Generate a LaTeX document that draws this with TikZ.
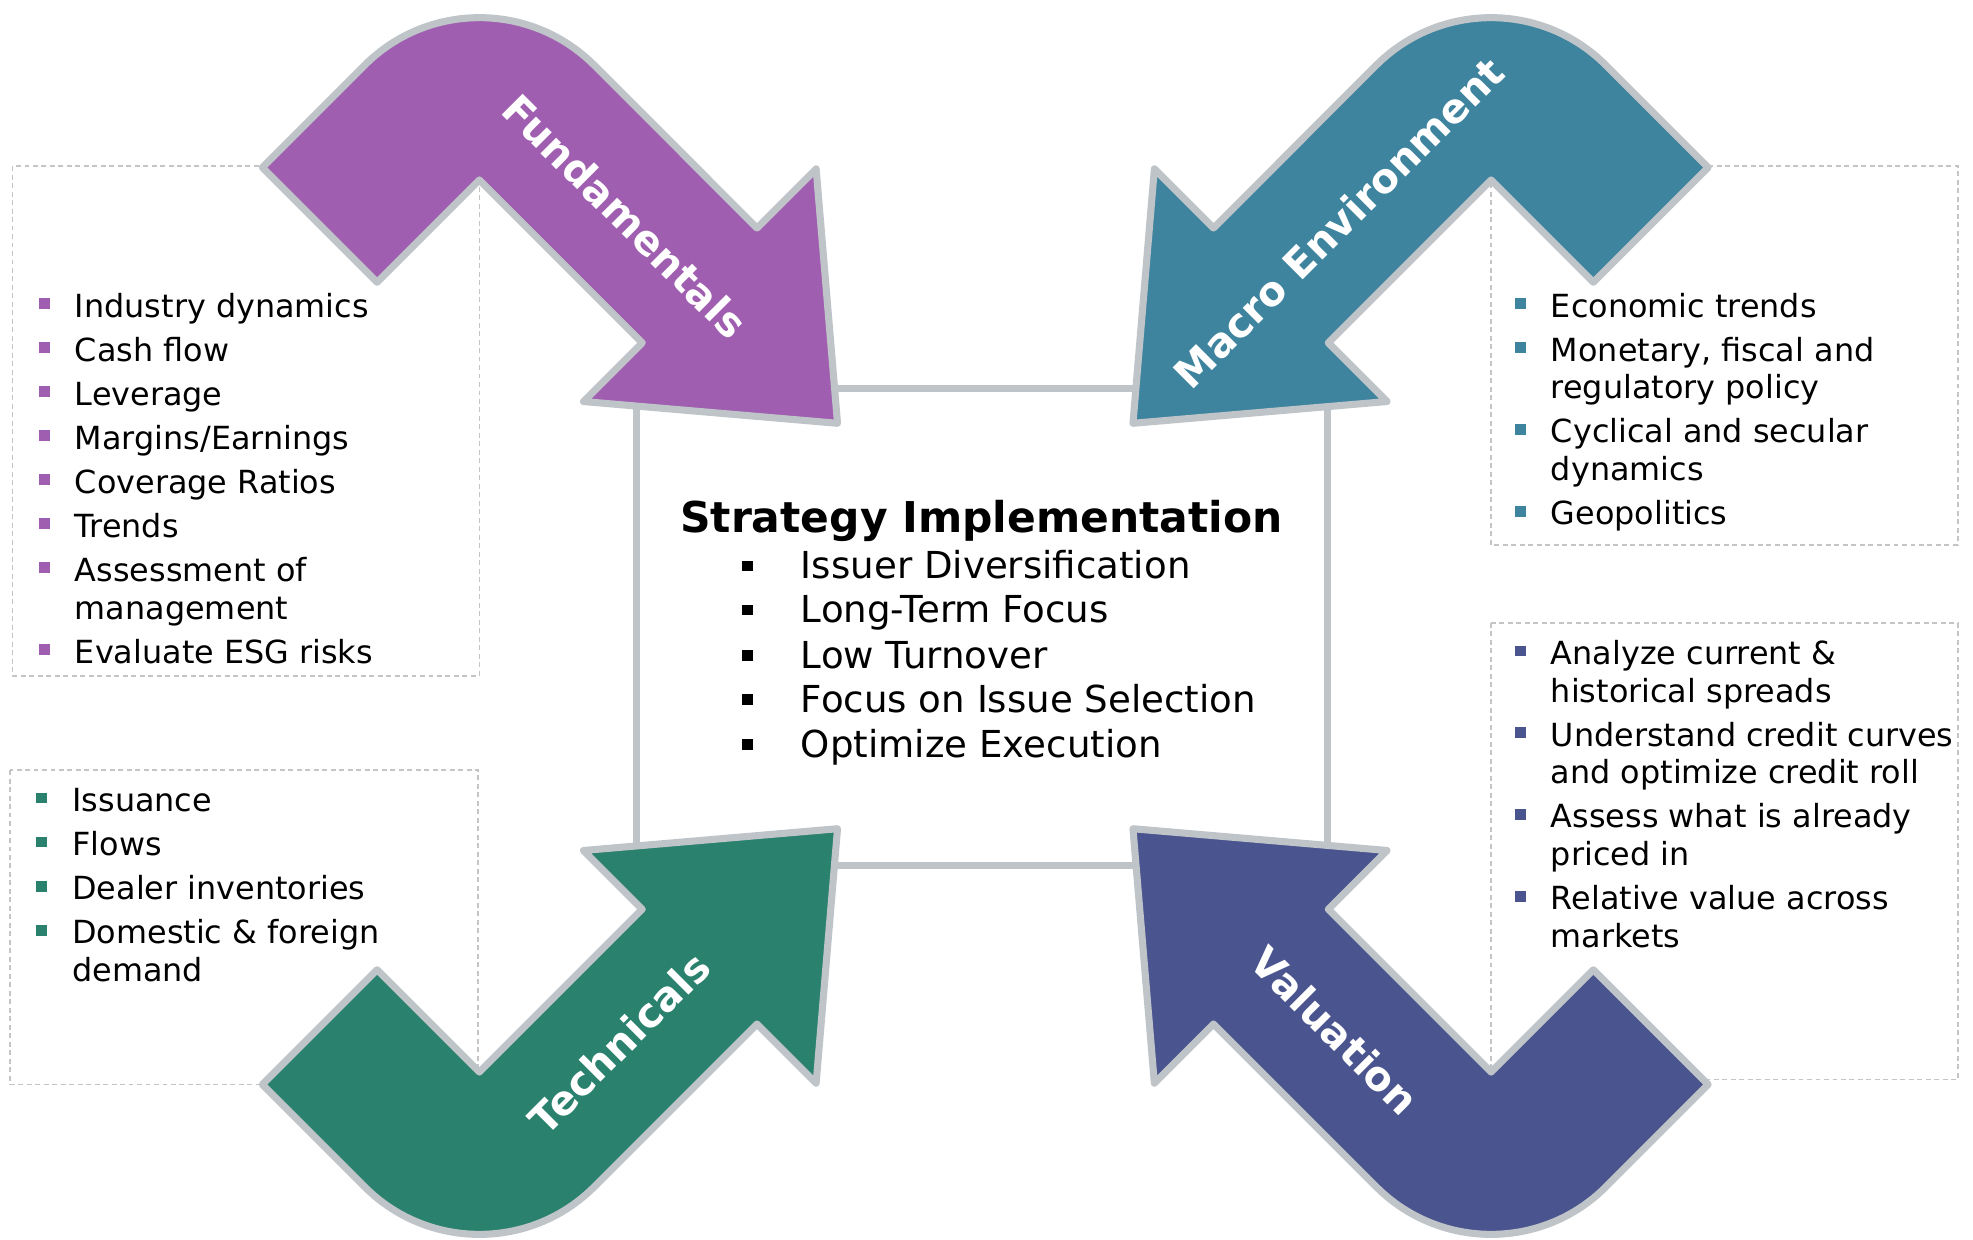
\documentclass[tikz,border=0pt]{standalone}
\usepackage{fontspec}
\setmainfont{DejaVu Sans}
\definecolor{fundc}{HTML}{A05EB0}
\definecolor{macroc}{HTML}{3E849E}
\definecolor{techc}{HTML}{2A816E}
\definecolor{valuc}{HTML}{4A548E}
\definecolor{rimc}{HTML}{BFC4C8}
\definecolor{dashc}{HTML}{C4C4C4}
% bent arrow, inner corner at the origin
\newcommand{\bentarrow}{(-172.5,9.9) -- (-91.2,91.2) arc[start angle=135, end angle=45, radius=129]
  -- (220.6,-38.2) -- (267.6,8.8) -- (284.6,-193.4) -- (82.7,-176.1) -- (129.4,-129.4)
  -- (0,0) -- (-81.3,-81.3) -- cycle}
\begin{document}
\begin{tikzpicture}[
    x=0.125mm, y=0.125mm,
    bentarr/.style={draw=rimc, line width=2pt, line join=round},
    note/.style={draw=dashc, line width=0.45pt, dash pattern=on 1.4pt off 1pt},
    frame/.style={draw=rimc, line width=1.9pt},
    item/.style={anchor=base west, inner sep=0pt, font=\fontsize{9}{11}\selectfont},
    core/.style={anchor=base west, inner sep=0pt, font=\fontsize{10.5}{12}\selectfont},
    tag/.style={text=white, inner sep=0pt, font=\fontsize{11.5}{13}\selectfont\bfseries},
  ]
  \useasboundingbox (0,0) rectangle (1568,-985);

  % dashed boxes
  \draw[note] (10,-132) rectangle (381,-537);
  \draw[note] (1185,-132) rectangle (1556,-433);
  \draw[note] (8,-612) rectangle (380,-862);
  \draw[note] (1185,-495) rectangle (1556,-858);

  % centre frame
  \draw[frame] (506,-309) rectangle (1055,-688);

  % arrows
  \begin{scope}[shift={(381,-143)}]
    \draw[bentarr, fill=fundc] \bentarrow;
  \end{scope}
  \begin{scope}[shift={(1185,-143)}, xscale=-1]
    \draw[bentarr, fill=macroc] \bentarrow;
  \end{scope}
  \begin{scope}[shift={(381,-852)}, yscale=-1]
    \draw[bentarr, fill=techc] \bentarrow;
  \end{scope}
  \begin{scope}[shift={(1185,-852)}, xscale=-1, yscale=-1]
    \draw[bentarr, fill=valuc] \bentarrow;
  \end{scope}

  \node[tag, rotate=-45] (fund) at (497,-172) {Fundamentals};
  \node[tag, rotate=45] (macro) at (1064,-177) {Macro Environment};
  \node[tag, rotate=45] (tech) at (492,-829) {Technicals};
  \node[tag, rotate=-45] (valu) at (1061,-819) {Valuation};

  % centre text
  \node[anchor=base, inner sep=0pt, font=\fontsize{12}{14}\selectfont\bfseries] (title) at (780,-423) {Strategy Implementation};
  \foreach \y/\t [count=\i] in {460/Issuer Diversification, 495/Long-Term Focus, 531/Low Turnover, 566/Focus on Issue Selection, 602/Optimize Execution}{
    \fill (590,-\y+6) rectangle ++(8.5,8.5);
    \node[core] (impl\i) at (636,-\y) {\t};
  }

  % fundamentals list
  \foreach \y/\t [count=\i] in {252/Industry dynamics, 287/Cash flow, 322/Leverage, 357/{Margins/Earnings}, 392/Coverage Ratios, 427/Trends, 462/Assessment of, 492/management, 527/Evaluate ESG risks}
    \node[item] (fl\i) at (59,-\y) {\t};
  \foreach \y in {252,287,322,357,392,427,462,527}
    \fill[fundc] (31,-\y+6.5) rectangle ++(8.5,8.5);

  % macro list
  \foreach \y/\t [count=\i] in {252/Economic trends, 287/{Monetary, fiscal and}, 317/regulatory policy, 352/Cyclical and secular, 382/dynamics, 417/Geopolitics}
    \node[item] (ml\i) at (1232,-\y) {\t};
  \foreach \y in {252,287,352,417}
    \fill[macroc] (1204,-\y+6.5) rectangle ++(8.5,8.5);

  % technicals list
  \foreach \y/\t [count=\i] in {645/Issuance, 680/Flows, 715/Dealer inventories, 750/Domestic \& foreign, 780/demand}
    \node[item] (tl\i) at (57,-\y) {\t};
  \foreach \y in {645,680,715,750}
    \fill[techc] (29,-\y+6.5) rectangle ++(8.5,8.5);

  % valuation list
  \foreach \y/\t [count=\i] in {528/Analyze current \&, 558/historical spreads, 593/Understand credit curves, 623/and optimize credit roll, 658/Assess what is already, 688/priced in, 723/Relative value across, 753/markets}
    \node[item] (vl\i) at (1232,-\y) {\t};
  \foreach \y in {528,593,658,723}
    \fill[valuc] (1204,-\y+6.5) rectangle ++(8.5,8.5);
\end{tikzpicture}
\end{document}
